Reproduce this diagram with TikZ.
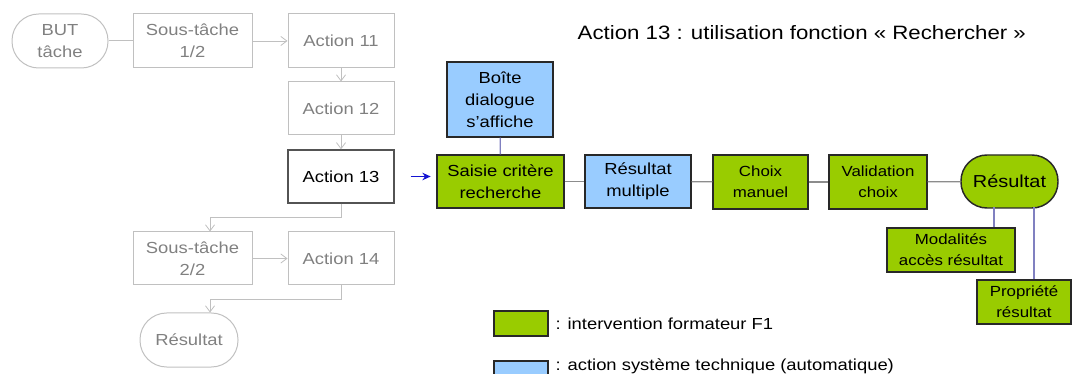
\documentclass[tikz,border=0pt]{standalone}
\usepackage{fontspec}
\setmainfont{Liberation Sans}[FakeStretch=1.15]
\usetikzlibrary{positioning,arrows.meta,calc}
\definecolor{GreyLine}{RGB}{192,192,192}
\definecolor{GreyText}{RGB}{128,128,128}
\definecolor{FlowGrey}{RGB}{140,140,140}
\definecolor{LinkPurple}{RGB}{128,128,192}
\definecolor{ArrowBlue}{RGB}{20,20,210}
\definecolor{TrainerGreen}{RGB}{153,204,0}
\definecolor{SystemBlue}{RGB}{153,204,255}
\definecolor{DarkEdge}{RGB}{40,40,40}
\tikzset{
  txt/.style={font=\fontsize{12}{16.5}\selectfont},
  smalltxt/.style={font=\fontsize{11}{15.5}\selectfont},
  greybox/.style={draw=GreyLine,line width=0.75pt,text=GreyText,align=center,
    txt,minimum width=79.5pt,minimum height=40.5pt,inner sep=1pt},
  greyend/.style={greybox,rounded corners=20pt},
  curbox/.style={greybox,draw=DarkEdge!80,line width=1pt,text=black},
  greenbox/.style={draw=DarkEdge,fill=TrainerGreen,line width=1.1pt,align=center,
    txt,inner sep=1pt},
  bluebox/.style={draw=DarkEdge,fill=SystemBlue,line width=1.1pt,align=center,
    txt,inner sep=1pt},
  greyflow/.style={-{Straight Barb[length=1.6mm,width=2.4mm]},line width=0.6pt,draw=GreyLine},
  greyplain/.style={line width=0.75pt,draw=GreyLine},
  hline/.style={line width=1pt,draw=FlowGrey},
  vline/.style={line width=1pt,draw=LinkPurple},
  blueflow/.style={-{Stealth[length=2.2mm,width=2mm]},line width=0.9pt,draw=ArrowBlue}
}
\begin{document}
\begin{tikzpicture}[x=0.75pt,y=-0.75pt]
  \useasboundingbox (0,0) rectangle (1072,374);
  % task tree
  \node[greyend,minimum width=72pt] (goal) at (60,41) {BUT\\tâche};
  \node[greybox,minimum width=89.25pt] (sub1) at (192.5,41) {Sous-tâche\\1/2};
  \node[greybox] (act11) at (341,41) {Action 11};
  \node[greybox,minimum height=39.75pt] (act12) at (341,108.5) {Action 12};
  \node[curbox,minimum height=39.75pt] (act13) at (341,176.5) {Action 13};
  \node[greybox,minimum width=89.25pt,minimum height=39.75pt] (sub2) at (192.5,258.5) {Sous-tâche\\2/2};
  \node[greybox,minimum height=39.75pt] (act14) at (341,258.5) {Action 14};
  \node[greyend,minimum width=73.5pt] (endL) at (189,340) {Résultat};
  \draw[greyplain] (goal) -- (sub1);
  \draw[greyflow] (sub1) -- (act11);
  \draw[greyflow] (act11) -- (act12);
  \draw[greyflow] (act12) -- (act13);
  \draw[greyflow] (act13.south) -- ++(0,14) -| ([xshift=13.125pt]sub2.north);
  \draw[greyflow] (sub2) -- (act14);
  \draw[greyflow] (act14.south) -- ++(0,14) -| ([xshift=15.75pt]endL.north);
  % detail of action 13
  \node[font=\fontsize{14.5}{17}\selectfont,anchor=west] (title) at (573,33)
    {Action 13 : utilisation fonction « Rechercher »};
  \node[bluebox,minimum width=79.5pt,minimum height=56.25pt] (dialog) at (500,99.5) {Boîte\\dialogue\\s’affiche};
  \node[greenbox,minimum width=95.25pt,minimum height=39.75pt] (input) at (500.5,181.5) {Saisie critère\\recherche};
  \node[bluebox,minimum width=79.5pt,minimum height=39.75pt] (multi) at (638,181.5) {Résultat\\multiple};
  \node[greenbox,smalltxt,minimum width=71.25pt,minimum height=40.5pt] (pick) at (760.5,182) {Choix\\manuel};
  \node[greenbox,smalltxt,minimum width=73.5pt,minimum height=40.5pt] (valid) at (878,182) {Validation\\choix};
  \node[greenbox,font=\fontsize{13}{16}\selectfont,rounded corners=19.5pt,
    minimum width=72.75pt,minimum height=39.75pt] (endR) at (1009.5,181.5) {Résultat};
  \node[greenbox,smalltxt,minimum width=96pt,minimum height=33pt] (access) at (951,250) {Modalités\\accès résultat};
  \node[greenbox,smalltxt,minimum width=70.5pt,minimum height=33pt] (owner) at (1024,302) {Propriété\\résultat};
  \draw[blueflow] ([xshift=12pt]act13.east) -- ++(20,0);
  \draw[vline] (dialog) -- (input);
  \draw[hline] (input) -- (multi);
  \draw[hline] (multi) -- (pick);
  \draw[hline] (pick) -- (valid);
  \draw[hline] (valid) -- (endR);
  \draw[vline] ([xshift=32.25pt]access.north) -- ++(0,-20);
  \draw[vline] ([xshift=7.5pt]owner.north) -- ++(0,-72);
  % legend
  \node[greenbox,line width=0.9pt,minimum width=40.5pt,minimum height=18.75pt] (keyF1) at (521,323.5) {};
  \node[bluebox,line width=0.9pt,minimum width=40.5pt,minimum height=18.75pt] (keySys) at (521,373.5) {};
  \node[txt,anchor=west] (keyF1txt) at (551,324) {: intervention formateur F1};
  \node[txt,anchor=west] (keySystxt) at (551,366) {: action système technique (automatique)};
\end{tikzpicture}
\end{document}
